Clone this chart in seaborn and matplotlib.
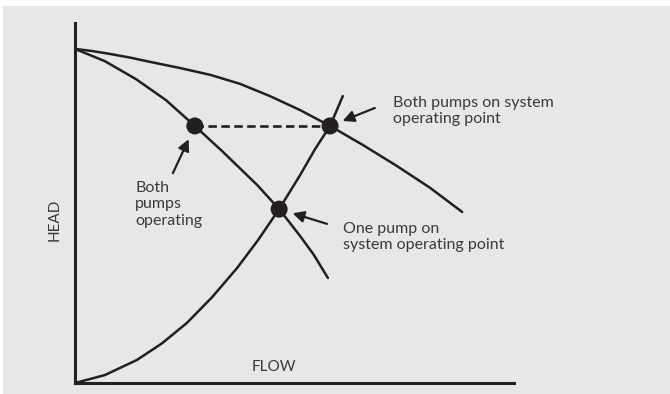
import matplotlib
matplotlib.use("Agg")
import matplotlib.pyplot as plt
import pandas as pd
import seaborn as sns
from matplotlib.patches import Rectangle

# curve points (flow, head on a 0-100 scale)
single_flow = [0, 6.8, 13.9, 20.7, 27.3, 33.7, 41.5, 46.5, 51.3, 54.4, 57.6]
single_head = [92.8, 89.4, 84.4, 78.6, 71.4, 64.2, 55.0, 48.3, 40.8, 35.6, 29.2]

both_flow = [0, 4.0, 8.0, 12.5, 17.1, 23.9, 30.8, 37.6, 44.4, 51.3, 58.1, 65.6, 73.3, 80.9, 88.2]
both_head = [92.8, 92.2, 91.4, 90.4, 89.2, 87.5, 85.6, 83.1, 79.7, 75.8, 71.4, 66.1, 60.3, 54.2, 47.5]

system_flow = [0, 6.8, 14.1, 19.8, 25.5, 31.2, 36.9, 41.7, 46.5, 51.3, 54.7, 58.1, 61.0]
system_head = [0, 2.2, 6.4, 11.0, 16.7, 23.8, 31.9, 39.7, 48.3, 57.8, 65.0, 71.4, 79.7]

# operating points: both pumps, both pumps on system, one pump on system
point_flow = [27.3, 58.1, 46.5]
point_head = [71.4, 71.4, 48.3]

labels = ["Both\npumps\noperating",
          "Both pumps on system\noperating point",
          "One pump on\nsystem operating point"]
label_pos = [(13.7, 56.2), (72.4, 79.8), (61.0, 44.8)]
arrow_tail = [(22.3, 58.3), (68.3, 76.4), (57.4, 44.2)]

sns.set_style("white")
plt.rcParams["font.family"] = ["Liberation Sans Narrow", "Lato", "DejaVu Sans"]

ink = "#231f20"
txt = "#3a3a3a"

fig = plt.figure(figsize=(6.7, 3.94), dpi=100)
fig.patch.set_facecolor("white")
fig.patches.append(Rectangle((3 / 670, 0), 1, 388 / 394, transform=fig.transFigure,
                             facecolor="#e6e7e8", edgecolor="none", zorder=-5))

ax = fig.add_axes([75 / 670, 11 / 394, 439 / 670, 360 / 394])
ax.set_facecolor("none")

curves = pd.DataFrame({
    "flow": single_flow + both_flow + system_flow,
    "head": single_head + both_head + system_head,
    "curve": ["single"] * len(single_flow) + ["both"] * len(both_flow)
             + ["system"] * len(system_flow),
})
sns.lineplot(data=curves, x="flow", y="head", units="curve", estimator=None,
             sort=False, color=ink, lw=1.8, ax=ax, zorder=2)

ax.plot(point_flow[:2], point_head[:2], color=ink, lw=1.9, dashes=(3.2, 1.7), zorder=2)
sns.scatterplot(x=point_flow, y=point_head, color=ink, s=150, edgecolor="none",
                ax=ax, zorder=3)

for lab, pos, tail, px, py in zip(labels, label_pos, arrow_tail, point_flow, point_head):
    ax.text(pos[0], pos[1], lab, color=txt, fontsize=11.5, ha="left", va="top",
            linespacing=1.25)
    # arrow stops just short of the dot
    dx, dy = px - tail[0], py - tail[1]
    ax.annotate("", xy=(tail[0] + 0.72 * dx, tail[1] + 0.72 * dy), xytext=tail,
                arrowprops=dict(arrowstyle="-|>", color=ink, lw=1.6,
                                mutation_scale=17, shrinkA=0, shrinkB=0))

ax.text(45.3, 4.4, "FLOW", color=txt, fontsize=11, ha="center", va="center")
ax.text(-4.6, 45.3, "HEAD", color=txt, fontsize=11, ha="center", va="center",
        rotation=90, clip_on=False)

ax.set_xlim(0, 100)
ax.set_ylim(0, 100)
ax.set_xlabel("")
ax.set_ylabel("")
ax.set_xticks([])
ax.set_yticks([])
sns.despine(ax=ax)
for side in ["left", "bottom"]:
    ax.spines[side].set_color(ink)
    ax.spines[side].set_linewidth(2.2)

fig.savefig("out.png", dpi=100)
